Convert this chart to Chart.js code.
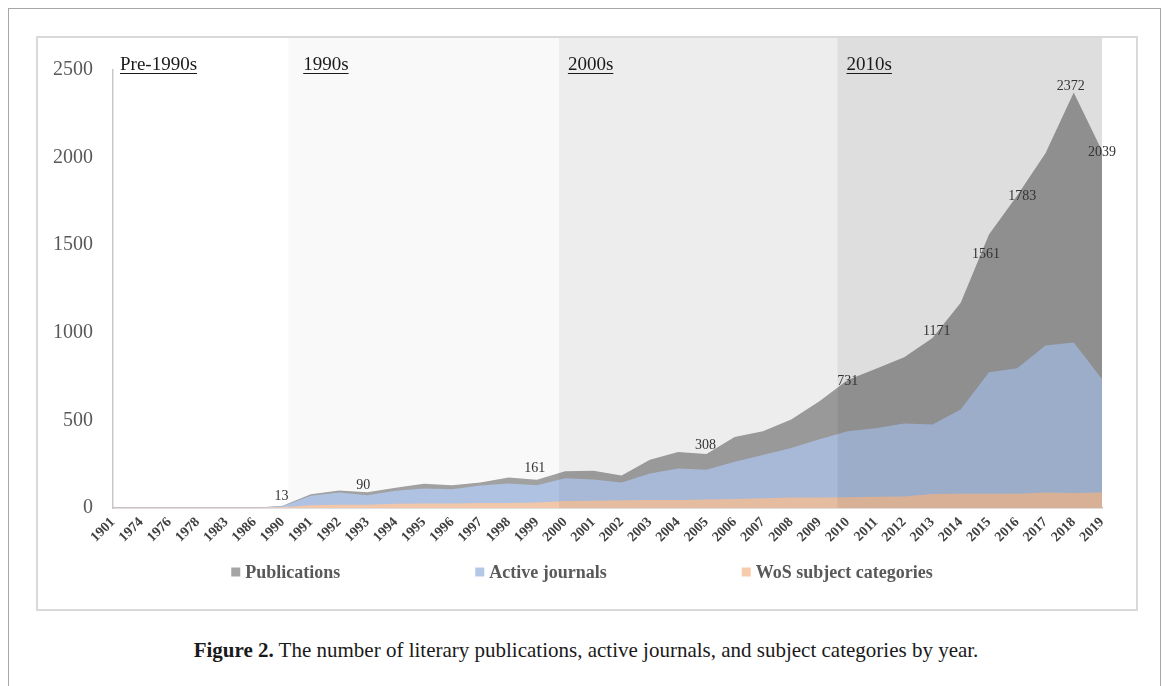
<!DOCTYPE html>
<html>
<head>
<meta charset="utf-8">
<script src="https://cdn.jsdelivr.net/npm/chart.js@4"></script>
<style>
  html, body { margin: 0; padding: 0; background: #fff; }
  body { width: 1168px; height: 686px; position: relative; overflow: hidden; font-family: "Liberation Serif", serif; }
  #outer { position: absolute; left: 8px; top: 8px; width: 1153px; height: 700px; border: 1px solid #a6a6a6; box-sizing: border-box; }
  #frame { position: absolute; left: 36px; top: 36px; width: 1102px; height: 575px; border: 2px solid #d9d9d9; box-sizing: border-box; }
  #wrap { position: absolute; left: 38px; top: 38px; width: 1098px; height: 571px; }
  #caption { position: absolute; left: 0; width: 1172px; top: 638px; text-align: center; font-size: 21px; color: #1a1a1a; }
</style>
</head>
<body>
<div id="outer"></div>
<div id="frame"></div>
<div id="wrap"><canvas id="chart"></canvas></div>
<div id="caption"><b>Figure 2.</b> The number of literary publications, active journals, and subject categories by year.</div>
<script>
// data
const years = ['1901', '1974', '1976', '1978', '1983', '1986', '1990', '1991', '1992', '1993', '1994', '1995',
  '1996', '1997', '1998', '1999', '2000', '2001', '2002', '2003', '2004', '2005', '2006', '2007', '2008', '2009',
  '2010', '2011', '2012', '2013', '2014', '2015', '2016', '2017', '2018', '2019'];
const publications = [1, 1, 1, 1, 1, 2, 13, 78, 100, 90, 115, 138, 130, 146, 174, 161, 210, 212, 185, 275, 320, 308,
  405, 438, 505, 610, 731, 795, 860, 970, 1171, 1561, 1783, 2025, 2372, 2039];
const activeJournals = [1, 1, 1, 1, 1, 2, 10, 70, 88, 73, 98, 112, 107, 128, 140, 130, 170, 163, 146, 197, 225, 218,
  264, 303, 343, 393, 438, 455, 483, 477, 562, 775, 798, 927, 944, 736];
const wosCategories = [1, 1, 1, 1, 1, 1, 4, 15, 18, 18, 24, 25, 25, 28, 28, 32, 40, 42, 44, 46, 46, 48,
  52, 56, 60, 60, 62, 64, 66, 80, 82, 82, 82, 88, 86, 88];
const yTicks = [0, 500, 1000, 1500, 2000, 2500];
const periods = ['Pre-1990s', '1990s', '2000s', '2010s'];
const periodStart = [0, 6.2, 15.78, 25.64]; // category index where each shaded band begins
const labelledYears = ['1990', '1993', '1999', '2005', '2010', '2014', '2015', '2016', '2018', '2019'];

const labelNudge = [[-1, -9], [-4, -7], [-2, -11], [-1, -9], [0, 1], [-24, 28], [-3, 20], [5, 1], [-3, -6], [0, 2]];
const bandColors = [null, 'rgba(0,0,0,0.024)', 'rgba(0,0,0,0.07)', 'rgba(0,0,0,0.13)'];

const overlay = {
  id: 'overlay',
  afterDatasetsDraw(chart) {
    const { ctx, chartArea, scales: { x, y } } = chart;
    ctx.save();
    // decade bands, drawn over the areas
    for (let i = 1; i < periods.length; i++) {
      const x0 = x.getPixelForValue(periodStart[i]);
      const x1 = i + 1 < periods.length ? x.getPixelForValue(periodStart[i + 1]) : chartArea.right;
      ctx.fillStyle = bandColors[i];
      ctx.fillRect(x0, 0, x1 - x0, chartArea.bottom);
    }
    // decade headings
    ctx.font = '19px "Liberation Serif"';
    ctx.fillStyle = '#1a1a1a';
    ctx.strokeStyle = '#1a1a1a';
    ctx.lineWidth = 1.2;
    ctx.textBaseline = 'alphabetic';
    ctx.textAlign = 'left';
    periods.forEach((p, i) => {
      const tx = i === 0 ? chartArea.left + 7 : x.getPixelForValue(periodStart[i]) + (i === 1 ? 15 : 9);
      const ty = 32;
      ctx.fillText(p, tx, ty);
      const w = ctx.measureText(p).width;
      ctx.beginPath();
      ctx.moveTo(tx, ty + 3.5);
      ctx.lineTo(tx + w, ty + 3.5);
      ctx.stroke();
    });
    // value labels on publications
    ctx.font = '14px "Liberation Serif"';
    ctx.fillStyle = '#333';
    ctx.textAlign = 'center';
    ctx.textBaseline = 'middle';
    labelledYears.forEach((yr, k) => {
      const idx = years.indexOf(yr);
      const v = publications[idx];
      const px = x.getPixelForValue(idx) + labelNudge[k][0];
      const py = y.getPixelForValue(v) + labelNudge[k][1];
      ctx.fillText(String(v), px, py);
    });
    ctx.restore();
  },
  afterDraw(chart) {
    // legend with equal gaps, like the original
    const { ctx } = chart;
    const items = chart.data.datasets.map(d => ({ text: d.label, color: d.backgroundColor }));
    ctx.save();
    ctx.font = 'bold 18px "Liberation Serif"';
    const box = 9, gapText = 5, gapItem = 135;
    items.forEach(it => it.w = box + gapText + ctx.measureText(it.text).width);
    const total = items.reduce((s, it) => s + it.w, 0) + gapItem * (items.length - 1);
    let cx = chart.width / 2 - 5 - total / 2;
    const cy = 534;
    ctx.textBaseline = 'middle';
    ctx.textAlign = 'left';
    items.forEach(it => {
      ctx.fillStyle = it.color;
      ctx.fillRect(cx, cy - box / 2, box, box);
      ctx.fillStyle = '#595959';
      ctx.fillText(it.text, cx + box + gapText, cy + 1);
      cx += it.w + gapItem;
    });
    ctx.restore();
  }
};

const areaStyle = (color, order) => ({
  backgroundColor: color,
  borderColor: 'rgba(0,0,0,0)',
  borderWidth: 0,
  pointRadius: 0,
  pointHoverRadius: 0,
  fill: 'origin',
  tension: 0,
  order
});

new Chart(document.getElementById('chart'), {
  type: 'line',
  data: {
    labels: years,
    datasets: [
      { label: 'Publications', data: publications, ...areaStyle('#a5a5a5', 3) },
      { label: 'Active journals', data: activeJournals, ...areaStyle('#b4c7e7', 2) },
      { label: 'WoS subject categories', data: wosCategories, ...areaStyle('#f8cbad', 1) }
    ]
  },
  options: {
    responsive: true,
    maintainAspectRatio: false,
    animation: false,
    layout: { padding: { left: 0, right: 34, top: 25, bottom: 0 } },
    plugins: { legend: { display: false }, tooltip: { enabled: false } },
    scales: {
      x: {
        offset: false,
        grid: { display: false, drawTicks: false },
        border: { display: true, color: '#bfbfbf', width: 1.5 },
        ticks: {
          autoSkip: false, maxRotation: 45, minRotation: 45, padding: 6,
          color: '#404040', font: { family: 'Liberation Serif', size: 14, weight: 'bold' }
        },
        afterFit(scale) { scale.height = 101; }
      },
      y: {
        min: yTicks[0],
        max: yTicks[yTicks.length - 1],
        afterBuildTicks(scale) { scale.ticks = yTicks.map(v => ({ value: v })); },
        grid: { display: false, drawTicks: false },
        border: { display: true, color: '#c8c8c8', width: 1.5 },
        ticks: {
          padding: 20, color: '#595959', font: { family: 'Liberation Serif', size: 20 },
          callback: v => String(v)
        },
        afterFit(scale) { scale.width = 75; }
      }
    }
  },
  plugins: [overlay]
});
</script>
</body>
</html>
